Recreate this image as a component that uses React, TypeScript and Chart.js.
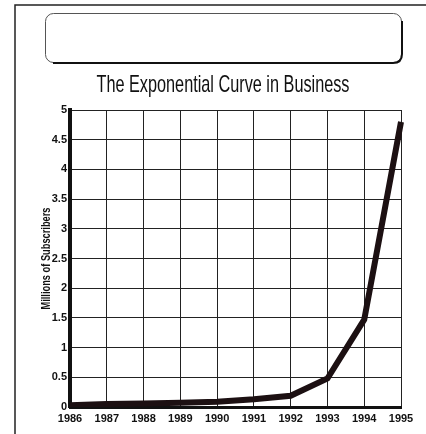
import React, { useEffect, useRef } from 'react';
import { Chart, registerables } from 'chart.js';

Chart.register(...registerables);

const years = ['1986', '1987', '1988', '1989', '1990', '1991', '1992', '1993', '1994', '1995'];
const subscribers = [0.03, 0.05, 0.06, 0.07, 0.09, 0.13, 0.19, 0.48, 1.47, 4.8];
const chartTitle = 'The Exponential Curve in Business';
const yAxisTitle = 'Millions of Subscribers';
const yMin = 0;
const yMax = 5;
const yStep = 0.5;

const NARROW = "'Liberation Sans Narrow', 'Arial Narrow', 'Liberation Sans', Arial, sans-serif";

const decorPlugin = {
  id: 'decor',
  beforeDraw(chart: any) {
    const ctx = chart.ctx;
    ctx.save();
    ctx.fillStyle = '#ffffff';
    ctx.fillRect(0, 0, chart.width, chart.height);
    ctx.restore();
  },
  afterDraw(chart: any) {
    const ctx = chart.ctx;
    const area = chart.chartArea;
    ctx.save();
    // outer frame (top + left)
    ctx.strokeStyle = '#222';
    ctx.lineWidth = 1.5;
    ctx.beginPath();
    ctx.moveTo(15, chart.height);
    ctx.lineTo(15, 5);
    ctx.lineTo(chart.width, 5);
    ctx.stroke();

    // rounded empty box with shadow
    const bx = 45, by = 13, bw = 356, bh = 49, r = 8;
    ctx.strokeStyle = '#555';
    ctx.lineWidth = 1;
    ctx.beginPath();
    ctx.roundRect(bx + 0.5, by + 0.5, bw, bh, r);
    ctx.stroke();
    ctx.strokeStyle = '#111';
    ctx.lineWidth = 2;
    ctx.beginPath();
    ctx.moveTo(bx + r, by + bh + 1);
    ctx.lineTo(bx + bw - r, by + bh + 1);
    ctx.quadraticCurveTo(bx + bw + 1, by + bh + 1, bx + bw + 1, by + bh - r);
    ctx.lineTo(bx + bw + 1, by + r);
    ctx.stroke();

    // title
    ctx.fillStyle = '#111';
    ctx.font = `24px ${NARROW}`;
    ctx.textBaseline = 'middle';
    ctx.textAlign = 'left';
    const tw = ctx.measureText(chartTitle).width;
    const targetW = 253;
    const sx = targetW / tw;
    ctx.save();
    ctx.translate(223 - targetW / 2, 85);
    ctx.scale(sx, 1);
    ctx.fillText(chartTitle, 0, 0);
    ctx.restore();

    // y axis title
    ctx.save();
    ctx.font = `bold 12px ${NARROW}`;
    ctx.textAlign = 'center';
    ctx.textBaseline = 'middle';
    const yw = ctx.measureText(yAxisTitle).width;
    const ysx = 102 / yw;
    ctx.translate(47, (area.top + area.bottom) / 2);
    ctx.rotate(-Math.PI / 2);
    ctx.scale(ysx, 1);
    ctx.fillText(yAxisTitle, 0, 0);
    ctx.restore();
    ctx.restore();
  },
};

export default function App() {
  const ref = useRef<HTMLCanvasElement | null>(null);
  useEffect(() => {
    if (!ref.current) return;
    const chart = new Chart(ref.current, {
      type: 'line',
      data: {
        labels: years,
        datasets: [
          {
            data: subscribers,
            borderColor: '#1c1012',
            borderWidth: 6,
            pointRadius: 0,
            tension: 0,
            fill: false,
            borderJoinStyle: 'miter',
          },
        ],
      },
      options: {
        responsive: false,
        animation: false,
        layout: { padding: { top: 110, right: 25, left: 0, bottom: 0 } },
        plugins: {
          legend: { display: false },
          tooltip: { enabled: false },
          title: { display: false },
        },
        scales: {
          x: {
            type: 'category',
            offset: false,
            grid: { color: '#222', lineWidth: 1, drawTicks: false },
            border: { display: true, color: '#111', width: 3 },
            ticks: {
              color: '#111',
              padding: 5,
              maxRotation: 0,
              autoSkip: false,
              font: { family: NARROW, size: 11, weight: 'bold' },
            },
            afterFit(scale: any) {
              scale.height = 27;
              scale.paddingLeft = 0;
              scale.paddingRight = 0;
            },
          },
          y: {
            min: yMin,
            max: yMax,
            grid: { color: '#222', lineWidth: 1, drawTicks: false },
            border: { display: true, color: '#111', width: 4 },
            ticks: {
              stepSize: yStep,
              color: '#111',
              padding: 3,
              font: { family: NARROW, size: 11, weight: 'bold' },
              callback: (v: any) => String(v),
            },
            afterFit(scale: any) {
              scale.width = 70;
              scale.paddingTop = 0;
              scale.paddingBottom = 0;
            },
          },
        },
      },
      plugins: [decorPlugin],
    } as any);
    return () => chart.destroy();
  }, []);
  return (
    <div style={{ position: 'absolute', left: 0, top: 0, width: 426, height: 434, background: '#fff' }}>
      <canvas ref={ref} width={426} height={434} style={{ display: 'block' }} />
    </div>
  );
}
